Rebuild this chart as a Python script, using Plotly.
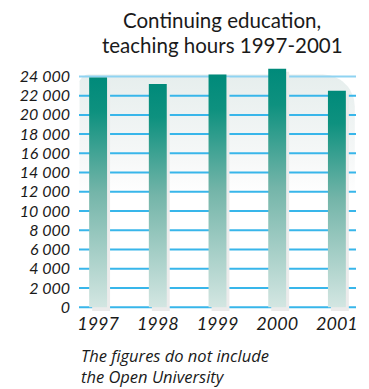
import math
import plotly.graph_objects as go

# Teaching hours in continuing education per year
years = ["1997", "1998", "1999", "2000", "2001"]
hours = [23900, 23200, 24200, 24800, 22500]

# Value axis ticks
tick_vals = [0, 2000, 4000, 6000, 8000, 10000, 12000, 14000, 16000, 18000, 20000, 22000, 24000]
tick_text = ["0", "2 000", "4 000", "6 000", "8 000", "10 000", "12 000",
             "14 000", "16 000", "18 000", "20 000", "22 000", "24 000"]

title_lines = ["Continuing education,", "teaching hours 1997-2001"]
note_text = "The figures do not include<br>the Open University"

W, H = 369, 389
M = dict(l=79, r=13, t=62, b=78)
X_RANGE = [-0.32, 4.32]
Y_RANGE = [-400, 25500]
PLOT_W = W - M["l"] - M["r"]
PLOT_H = H - M["t"] - M["b"]

# pixel -> data unit helpers for rounded corners and offsets
px_x = (X_RANGE[1] - X_RANGE[0]) / PLOT_W
px_y = (Y_RANGE[1] - Y_RANGE[0]) / PLOT_H


def paper_y(pix):
    return (H - M["b"] - pix) / PLOT_H


def rounded_panel(x0, x1, y0, y1, r_left, r_right, n=14):
    xs, ys = [x0], [y0]
    for k in range(n + 1):
        a = math.pi - k * (math.pi / 2) / n
        xs.append(x0 + r_left * px_x * (1 + math.cos(a)))
        ys.append(y1 - r_left * px_y * (1 - math.sin(a)))
    for k in range(n + 1):
        a = math.pi / 2 - k * (math.pi / 2) / n
        xs.append(x1 - r_right * px_x * (1 - math.cos(a)))
        ys.append(y1 - r_right * px_y * (1 - math.sin(a)))
    xs += [x1, x0]
    ys += [y0, y0]
    return xs, ys


fig = go.Figure()

# soft background panel
panel_top = 24200
pxs, pys = rounded_panel(-0.32, 4.30, 0, panel_top, 10, 32)
fig.add_trace(go.Scatter(
    x=pxs, y=pys, mode="lines", fill="toself", line=dict(width=0),
    fillgradient=dict(type="vertical", start=0, stop=panel_top,
                      colorscale=[[0, "#ffffff"], [0.48, "#ffffff"], [0.64, "#f6f8f8"], [1, "#e6eeed"]]),
    hoverinfo="skip", showlegend=False))

# horizontal grid lines
gx, gy = [], []
for v in tick_vals[:-1]:
    gx += [X_RANGE[0], X_RANGE[1], None]
    gy += [v, v, None]
fig.add_trace(go.Scatter(x=gx, y=gy, mode="lines", line=dict(color="#38b6ea", width=2),
                         hoverinfo="skip", showlegend=False))
# top line sits on the panel edge and is paler
fig.add_trace(go.Scatter(x=[X_RANGE[0], X_RANGE[1]], y=[tick_vals[-1]] * 2, mode="lines",
                         line=dict(color="#8fd3f2", width=2), hoverinfo="skip", showlegend=False))

bar_w = 0.3
# bar shadows
for i, v in enumerate(hours):
    dx = 3 * px_x
    x0, x1 = i - bar_w / 2 + dx, i + bar_w / 2 + dx
    top, bot = v - 3 * px_y, -4 * px_y
    fig.add_trace(go.Scatter(
        x=[x0, x1, x1, x0, x0], y=[bot, bot, top, top, bot], mode="lines",
        fill="toself", fillcolor="#ebebeb", line=dict(width=0),
        hoverinfo="skip", showlegend=False))

# bars with vertical gradient
for i, v in enumerate(hours):
    x0, x1 = i - bar_w / 2, i + bar_w / 2
    fig.add_trace(go.Scatter(
        x=[x0, x1, x1, x0, x0], y=[0, 0, v, v, 0], mode="lines",
        fill="toself", line=dict(width=0),
        fillgradient=dict(type="vertical", start=0, stop=v,
                          colorscale=[[0, "#d3e6e2"], [0.5, "#74b5a9"], [0.85, "#0e917f"], [1, "#008a7a"]]),
        name=years[i], hovertemplate=years[i] + ": %{text}<extra></extra>",
        text=[f"{v:,}".replace(",", " ")] * 5, showlegend=False))

TXT = "#1a1a1a"
annotations = []
for line, pix in zip(title_lines, [20, 45]):
    annotations.append(dict(text=line, xref="paper", yref="paper", x=(222 - M["l"]) / PLOT_W,
                            y=paper_y(pix), xanchor="center", yanchor="middle", showarrow=False,
                            font=dict(size=20.5, family="Lato", color=TXT)))
annotations.append(dict(text=note_text, xref="paper", yref="paper", x=0, y=paper_y(366),
                        xanchor="left", yanchor="middle", align="left", showarrow=False,
                        font=dict(size=16.5, family="Open Sans", style="italic", color=TXT)))

fig.update_layout(
    width=W, height=H, margin=M,
    paper_bgcolor="white", plot_bgcolor="white",
    font=dict(family="Lato", color=TXT),
    xaxis=dict(range=X_RANGE, tickvals=list(range(len(years))), ticktext=years,
               showgrid=False, zeroline=False, showline=False,
               tickfont=dict(size=18, family="Lato", style="italic", color=TXT),
               ticks="", fixedrange=True),
    yaxis=dict(range=Y_RANGE, tickvals=tick_vals, ticktext=tick_text,
               showgrid=False, zeroline=False, showline=False,
               tickfont=dict(size=16, family="Lato", style="italic", color=TXT),
               ticks="", ticklabelstandoff=8, fixedrange=True),
    annotations=annotations,
)

fig.write_html("out.html")
